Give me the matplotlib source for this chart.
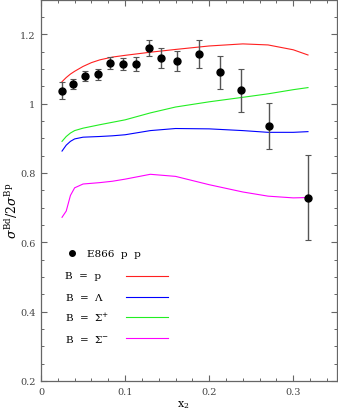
import numpy as np
import matplotlib
matplotlib.use("Agg")
import matplotlib.pyplot as plt
from matplotlib.ticker import MultipleLocator

plt.rcParams["font.family"] = "DejaVu Serif"
plt.rcParams["mathtext.fontset"] = "dejavuserif"

# ── E866 data ──
x_data = [0.025, 0.038, 0.052, 0.0675, 0.0825, 0.0976, 0.1127, 0.128,
          0.143, 0.162, 0.1877, 0.2127, 0.2377, 0.271, 0.3175]
y_data = [1.037, 1.056, 1.080, 1.084, 1.117, 1.114, 1.114, 1.160,
          1.131, 1.123, 1.143, 1.090, 1.038, 0.935, 0.729]
y_err  = [0.024, 0.015, 0.015, 0.016, 0.016, 0.017, 0.020, 0.024,
          0.029, 0.028, 0.040, 0.048, 0.063, 0.067, 0.123]

# ── model curves ──
x_curve = [0.025, 0.03, 0.035, 0.04, 0.05, 0.06, 0.07, 0.085, 0.1, 0.13,
           0.16, 0.2, 0.24, 0.27, 0.3, 0.3175]
r_p     = [1.063, 1.075, 1.085, 1.093, 1.107, 1.118, 1.126, 1.134, 1.139,
           1.148, 1.156, 1.166, 1.172, 1.169, 1.155, 1.140]
r_lam   = [0.863, 0.880, 0.891, 0.898, 0.903, 0.904, 0.905, 0.907, 0.910,
           0.922, 0.928, 0.927, 0.922, 0.917, 0.917, 0.919]
r_sigp  = [0.891, 0.905, 0.915, 0.922, 0.929, 0.934, 0.939, 0.946, 0.953,
           0.973, 0.990, 1.005, 1.018, 1.028, 1.040, 1.046]
r_sigm  = [0.672, 0.690, 0.735, 0.757, 0.768, 0.770, 0.772, 0.776, 0.782,
           0.796, 0.790, 0.766, 0.745, 0.733, 0.728, 0.729]

curves = [
    (r_p,    "#ff2020", r"B  =  p"),
    (r_lam,  "#0000ff", r"B  =  $\Lambda$"),
    (r_sigp, "#22ee22", r"B  =  $\Sigma^{+}$"),
    (r_sigm, "#ff00ff", r"B  =  $\Sigma^{-}$"),
]

fig = plt.figure(figsize=(3.38, 4.14), dpi=100)
ax = fig.add_axes([41/338, 32/414, 296/338, 381.5/414])

for vals, col, _ in curves:
    ax.plot(x_curve, vals, color=col, lw=0.8)

ax.errorbar(x_data, y_data, yerr=y_err, fmt="o", color="black", ms=5,
            ecolor="#555555", elinewidth=1.0, capsize=2, capthick=0.8)

ax.set_xlim(0, 0.352)
ax.set_ylim(0.2, 1.3)
ax.xaxis.set_minor_locator(MultipleLocator(0.02))
ax.yaxis.set_minor_locator(MultipleLocator(0.05))
ax.set_xticks([0, 0.1, 0.2, 0.3])
ax.set_xticklabels(["0", "0.1", "0.2", "0.3"])
ax.set_yticks([0.2, 0.4, 0.6, 0.8, 1.0, 1.2])
ax.set_yticklabels(["0.2", "0.4", "0.6", "0.8", "1", "1.2"])
ax.tick_params(which="both", direction="in", top=True, right=True,
               color="#666666", labelsize=7, labelcolor="#444444", pad=4)
ax.tick_params(which="major", length=4.5, width=0.8)
ax.tick_params(which="minor", length=2.5, width=0.7)
for sp in ax.spines.values():
    sp.set_color("#666666")
    sp.set_linewidth(0.9)

# legend drawn by hand
ax.plot([0.104], [0.335], "o", color="black", ms=4, transform=ax.transAxes)
ax.text(0.154, 0.335, "E866  p  p", transform=ax.transAxes, fontsize=7.5,
        va="center", ha="left")
rows = [0.276, 0.221, 0.167, 0.112]
for (vals, col, lab), yy in zip(curves, rows):
    ax.text(0.081, yy, lab, transform=ax.transAxes, fontsize=7.5,
            va="center", ha="left")
    ax.plot([0.287, 0.430], [yy, yy], color=col, lw=0.8,
            transform=ax.transAxes)

fig.text(12/338, 0.49, r"$\sigma^{\rm Bd}/2\sigma^{\rm Bp}$", rotation=90,
         fontsize=9, ha="center", va="center")
fig.text(183/338, 0.022, r"x$_2$", fontsize=8, ha="center", va="center")

fig.savefig("out.png", dpi=100)
